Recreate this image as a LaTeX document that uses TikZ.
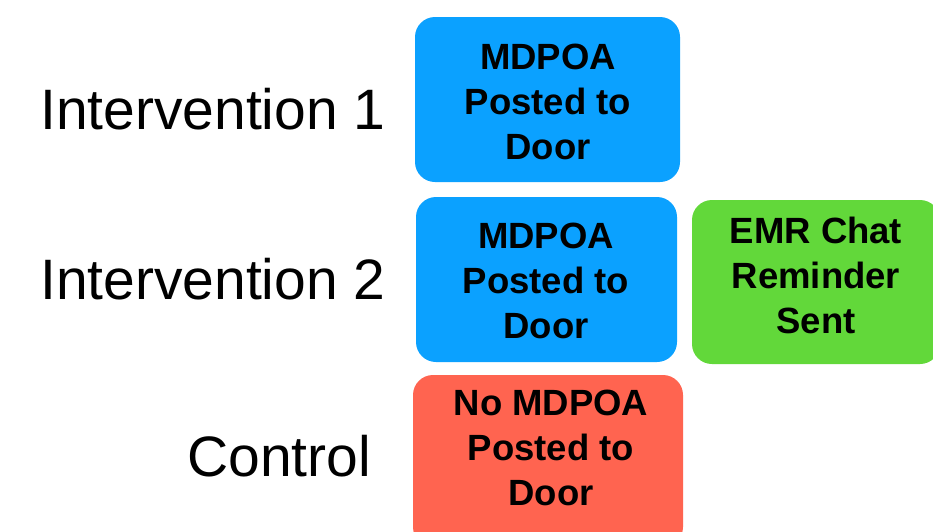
\documentclass[tikz,border=0pt]{standalone}
\usepackage{fontspec}
\setmainfont{Liberation Sans}
\definecolor{boxblue}{HTML}{0BA1FF}
\definecolor{boxgreen}{HTML}{62D83A}
\definecolor{boxred}{HTML}{FF6450}
\tikzset{
  box/.style={rounded corners=20pt, inner sep=0pt},
  boxtext/.style={align=center, inner sep=0pt, font=\fontsize{36.5}{45}\selectfont\bfseries},
  rowlabel/.style={inner sep=0pt, anchor=base west, font=\fontsize{57}{60}\selectfont}
}
\begin{document}
\begin{tikzpicture}[x=1pt,y=-1pt]
\useasboundingbox (0,0) rectangle (933,531);
\clip (0,0) rectangle (933,531);
\fill[white] (0,0) rectangle (933,531);
% boxes
\node[box, fill=boxblue, minimum width=265pt, minimum height=165pt] (b1) at (547.5,99.5) {};
\node[box, fill=boxblue, minimum width=261pt, minimum height=165pt] (b2) at (546.5,279.5) {};
\node[box, fill=boxgreen, minimum width=248pt, minimum height=164pt] (g) at (816,282) {};
\node[box, fill=boxred, minimum width=270pt, minimum height=172pt] (r) at (548,461) {};
% box texts
\node[boxtext] (t1) at (548,101.5) {MDPOA\\Posted to\\Door};
\node[boxtext] (t2) at (546,280.5) {MDPOA\\Posted to\\Door};
\node[boxtext] (tg) at (816,275.5) {EMR Chat\\Reminder\\Sent};
\node[boxtext] (tr) at (551,447.5) {No MDPOA\\Posted to\\Door};
% row labels
\node[rowlabel] (l1) at (40,129) {Intervention 1};
\node[rowlabel] (l2) at (40,299) {Intervention 2};
\node[rowlabel] (l3) at (187,476) {Control};
\end{tikzpicture}
\end{document}
